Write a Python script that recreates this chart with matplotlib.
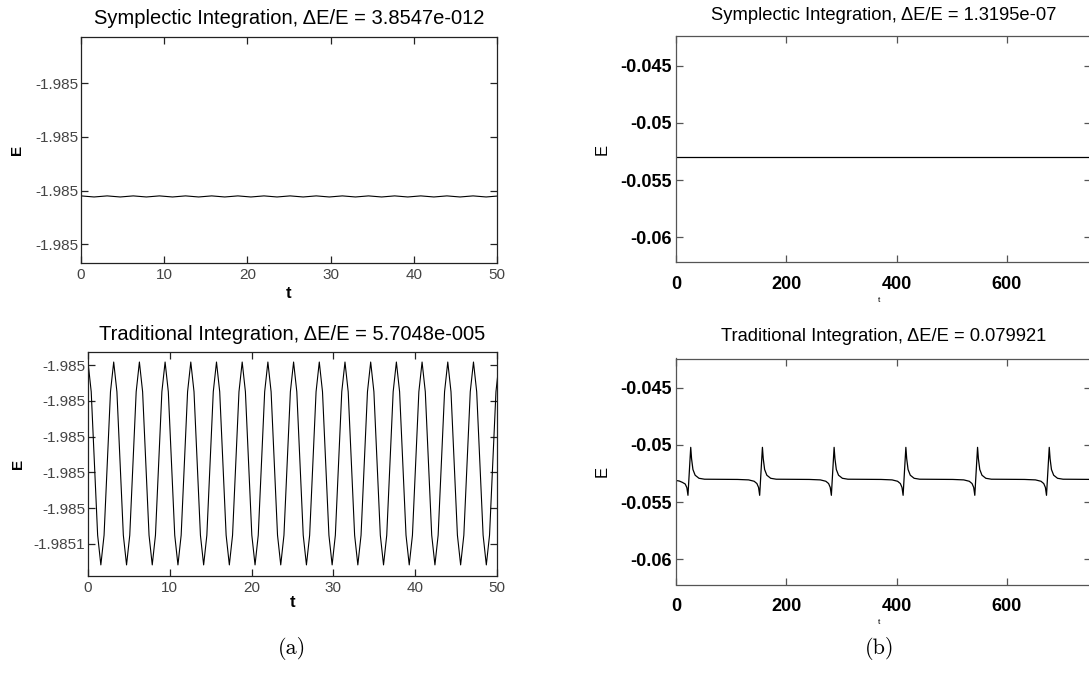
import matplotlib.pyplot as plt
from matplotlib.ticker import FixedLocator, FixedFormatter
import numpy as np

plt.rcParams['font.family'] = ['Liberation Sans', 'DejaVu Sans']

# ---- panel (a): small step, 50 time units ----
# symplectic energy, tiny ripple every quarter period (dt = pi/2)
dt_sym_a = 1.5708
E_sym_a = [-1.98502100, -1.98502120, -1.98502100, -1.98502120, -1.98502100, -1.98502120,
           -1.98502100, -1.98502120, -1.98502100, -1.98502120, -1.98502100, -1.98502120,
           -1.98502100, -1.98502120, -1.98502100, -1.98502120, -1.98502100, -1.98502120,
           -1.98502100, -1.98502120, -1.98502100, -1.98502120, -1.98502100, -1.98502120,
           -1.98502100, -1.98502120, -1.98502100, -1.98502120, -1.98502100, -1.98502120,
           -1.98502100, -1.98502120, -1.98502100]

# traditional energy, read every pi/8 (one row = one period)
dt_trad_a = 0.3927
E_trad_a = [
    -1.9849583, -1.9849749, -1.9850150, -1.9850551, -1.9850717, -1.9850551, -1.9850150, -1.9849749,
    -1.9849583, -1.9849749, -1.9850150, -1.9850551, -1.9850717, -1.9850551, -1.9850150, -1.9849749,
    -1.9849583, -1.9849749, -1.9850150, -1.9850551, -1.9850717, -1.9850551, -1.9850150, -1.9849749,
    -1.9849583, -1.9849749, -1.9850150, -1.9850551, -1.9850717, -1.9850551, -1.9850150, -1.9849749,
    -1.9849583, -1.9849749, -1.9850150, -1.9850551, -1.9850717, -1.9850551, -1.9850150, -1.9849749,
    -1.9849583, -1.9849749, -1.9850150, -1.9850551, -1.9850717, -1.9850551, -1.9850150, -1.9849749,
    -1.9849583, -1.9849749, -1.9850150, -1.9850551, -1.9850717, -1.9850551, -1.9850150, -1.9849749,
    -1.9849583, -1.9849749, -1.9850150, -1.9850551, -1.9850717, -1.9850551, -1.9850150, -1.9849749,
    -1.9849583, -1.9849749, -1.9850150, -1.9850551, -1.9850717, -1.9850551, -1.9850150, -1.9849749,
    -1.9849583, -1.9849749, -1.9850150, -1.9850551, -1.9850717, -1.9850551, -1.9850150, -1.9849749,
    -1.9849583, -1.9849749, -1.9850150, -1.9850551, -1.9850717, -1.9850551, -1.9850150, -1.9849749,
    -1.9849583, -1.9849749, -1.9850150, -1.9850551, -1.9850717, -1.9850551, -1.9850150, -1.9849749,
    -1.9849583, -1.9849749, -1.9850150, -1.9850551, -1.9850717, -1.9850551, -1.9850150, -1.9849749,
    -1.9849583, -1.9849749, -1.9850150, -1.9850551, -1.9850717, -1.9850551, -1.9850150, -1.9849749,
    -1.9849583, -1.9849749, -1.9850150, -1.9850551, -1.9850717, -1.9850551, -1.9850150, -1.9849749,
    -1.9849583, -1.9849749, -1.9850150, -1.9850551, -1.9850717, -1.9850551, -1.9850150, -1.9849749,
    -1.9849583]

xticks_a = [0, 10, 20, 30, 40, 50]
yticks_sym_a = [-1.98500, -1.98501, -1.98502, -1.98503]
ylabels_sym_a = ['-1.985', '-1.985', '-1.985', '-1.985']
yticks_trad_a = [-1.98496, -1.98498, -1.98500, -1.98502, -1.98504, -1.98506]
ylabels_trad_a = ['-1.985', '-1.985', '-1.985', '-1.985', '-1.985', '-1.9851']

# ---- panel (b): long run ----
t_sym_b = [0, 150, 300, 450, 600, 760]
E_sym_b = [-0.05295, -0.05295, -0.05295, -0.05295, -0.05295, -0.05295]

t_trad_b = [0, 6, 11.7, 16.7, 19.7, 21.7, 24.2, 26.7, 28.2, 30.7, 34.7, 41.7, 51.7,
            111.7, 131.7, 141.7, 146.7, 149.7, 151.7, 154.2, 156.7, 158.2, 160.7, 164.7, 171.7, 181.7,
            241.7, 261.7, 271.7, 276.7, 279.7, 281.7, 284.2, 286.7, 288.2, 290.7, 294.7, 301.7, 311.7,
            371.8, 391.8, 401.8, 406.8, 409.8, 411.8, 414.3, 416.8, 418.3, 420.8, 424.8, 431.8, 441.8,
            501.8, 521.8, 531.8, 536.8, 539.8, 541.8, 544.3, 546.8, 548.3, 550.8, 554.8, 561.8, 571.8,
            631.8, 651.8, 661.8, 666.8, 669.8, 671.8, 674.3, 676.8, 678.3, 680.8, 684.8, 691.8, 701.8,
            760]
E_trad_b = [-0.05311, -0.05316, -0.05328, -0.05342, -0.05374, -0.05441, -0.05230, -0.05021,
            -0.05120, -0.05215, -0.05265, -0.05292, -0.05300,
            -0.05302, -0.05306, -0.05318, -0.05338, -0.05372, -0.05441, -0.05230, -0.05021,
            -0.05120, -0.05215, -0.05265, -0.05292, -0.05300,
            -0.05302, -0.05306, -0.05318, -0.05338, -0.05372, -0.05441, -0.05230, -0.05021,
            -0.05120, -0.05215, -0.05265, -0.05292, -0.05300,
            -0.05302, -0.05306, -0.05318, -0.05338, -0.05372, -0.05441, -0.05230, -0.05021,
            -0.05120, -0.05215, -0.05265, -0.05292, -0.05300,
            -0.05302, -0.05306, -0.05318, -0.05338, -0.05372, -0.05441, -0.05230, -0.05021,
            -0.05120, -0.05215, -0.05265, -0.05292, -0.05300,
            -0.05302, -0.05306, -0.05318, -0.05338, -0.05372, -0.05441, -0.05230, -0.05021,
            -0.05120, -0.05215, -0.05265, -0.05292, -0.05300,
            -0.05302]

xticks_b = [0, 200, 400, 600]
yticks_b = [-0.045, -0.05, -0.055, -0.06]
ylabels_b = ['-0.045', '-0.05', '-0.055', '-0.06']

t_sym_a = np.arange(len(E_sym_a)) * dt_sym_a
t_trad_a = np.arange(len(E_trad_a)) * dt_trad_a

W, H = 1089, 677
fig = plt.figure(figsize=(W / 100, H / 100), dpi=100)


def box(x0, y0, x1, y1):
    # pixel box (top-left origin) -> figure fraction rect
    return [x0 / W, 1 - y1 / H, (x1 - x0) / W, (y1 - y0) / H]


def matlab_style(ax, edge, tickcol, size, weight):
    for s in ax.spines.values():
        s.set_color(edge)
        s.set_linewidth(0.9)
    ax.tick_params(direction='in', top=True, right=True, length=5, width=0.9,
                   color=edge, labelcolor=tickcol, labelsize=size)
    for lab in ax.get_xticklabels() + ax.get_yticklabels():
        lab.set_fontweight(weight)


# top left
ax1 = fig.add_axes(box(81, 37, 497, 263))
ax1.plot(t_sym_a, E_sym_a, color='black', lw=0.8)
ax1.set_xlim(0, 50)
ax1.set_ylim(-1.9850335, -1.9849914)
ax1.xaxis.set_major_locator(FixedLocator(xticks_a))
ax1.xaxis.set_major_formatter(FixedFormatter([str(v) for v in xticks_a]))
ax1.yaxis.set_major_locator(FixedLocator(yticks_sym_a))
ax1.yaxis.set_major_formatter(FixedFormatter(ylabels_sym_a))
matlab_style(ax1, '#222222', '#444444', 11, 'normal')
ax1.tick_params(axis='x', pad=3.5)
ax1.tick_params(axis='y', pad=2)
ax1.set_title('Symplectic Integration, \u0394E/E = 3.8547e-012', fontsize=14.5, pad=9)
ax1.set_xlabel('t', fontsize=12, fontweight='bold')
ax1.xaxis.set_label_coords(0.5, -0.133)
ax1.xaxis.label.set_va('center')
ax1.set_ylabel('E', fontsize=11, fontweight='bold')
ax1.yaxis.set_label_coords(-0.154, 0.5)
ax1.yaxis.label.set_va('center')

# bottom left
ax2 = fig.add_axes(box(88, 352, 497, 576))
ax2.plot(t_trad_a, E_trad_a, color='black', lw=0.8)
ax2.set_xlim(0, 50)
ax2.set_ylim(-1.9850779, -1.9849527)
ax2.xaxis.set_major_locator(FixedLocator(xticks_a))
ax2.xaxis.set_major_formatter(FixedFormatter([str(v) for v in xticks_a]))
ax2.yaxis.set_major_locator(FixedLocator(yticks_trad_a))
ax2.yaxis.set_major_formatter(FixedFormatter(ylabels_trad_a))
matlab_style(ax2, '#222222', '#444444', 11, 'normal')
ax2.tick_params(axis='x', pad=3.5)
ax2.tick_params(axis='y', pad=2)
ax2.set_title('Traditional Integration, \u0394E/E = 5.7048e-005', fontsize=14.5, pad=8.3)
ax2.set_xlabel('t', fontsize=12, fontweight='bold')
ax2.xaxis.set_label_coords(0.5, -0.12)
ax2.xaxis.label.set_va('center')
ax2.set_ylabel('E', fontsize=11, fontweight='bold')
ax2.yaxis.set_label_coords(-0.171, 0.5)
ax2.yaxis.label.set_va('center')

# right column (right spine sits just past the picture edge)
for (y0, y1, t, E, title, tpad) in [
        (36.5, 262.5, t_sym_b, E_sym_b, 'Symplectic Integration, \u0394E/E = 1.3195e-07', 12),
        (358.5, 584.5, t_trad_b, E_trad_b, 'Traditional Integration, \u0394E/E = 0.079921', 12.5)]:
    ax = fig.add_axes(box(676, y0, 1091, y1))
    ax.plot(t, E, color='black', lw=0.9)
    ax.set_xlim(0, 752.5)
    ax.set_ylim(-0.06222, -0.04243)
    ax.xaxis.set_major_locator(FixedLocator(xticks_b))
    ax.xaxis.set_major_formatter(FixedFormatter([str(v) for v in xticks_b]))
    ax.yaxis.set_major_locator(FixedLocator(yticks_b))
    ax.yaxis.set_major_formatter(FixedFormatter(ylabels_b))
    matlab_style(ax, '#555555', 'black', 13, 'bold')
    ax.tick_params(axis='x', pad=10)
    ax.tick_params(axis='y', pad=3)
    ax.set_title(title, fontsize=13.2, pad=tpad)
    ax.set_xlabel('t', fontsize=6)
    ax.xaxis.set_label_coords(0.49, -0.166)
    ax.xaxis.label.set_va('center')
    ax.set_ylabel('E', fontsize=12)
    ax.yaxis.set_label_coords(-0.178, 0.5)
    ax.yaxis.label.set_va('center')

fig.text(292 / W, 1 - 648 / H, '(a)', family='cmr10', fontsize=16, ha='center', va='center')
fig.text(880 / W, 1 - 648 / H, '(b)', family='cmr10', fontsize=16, ha='center', va='center')

fig.savefig('out.png', dpi=100, facecolor='white')
